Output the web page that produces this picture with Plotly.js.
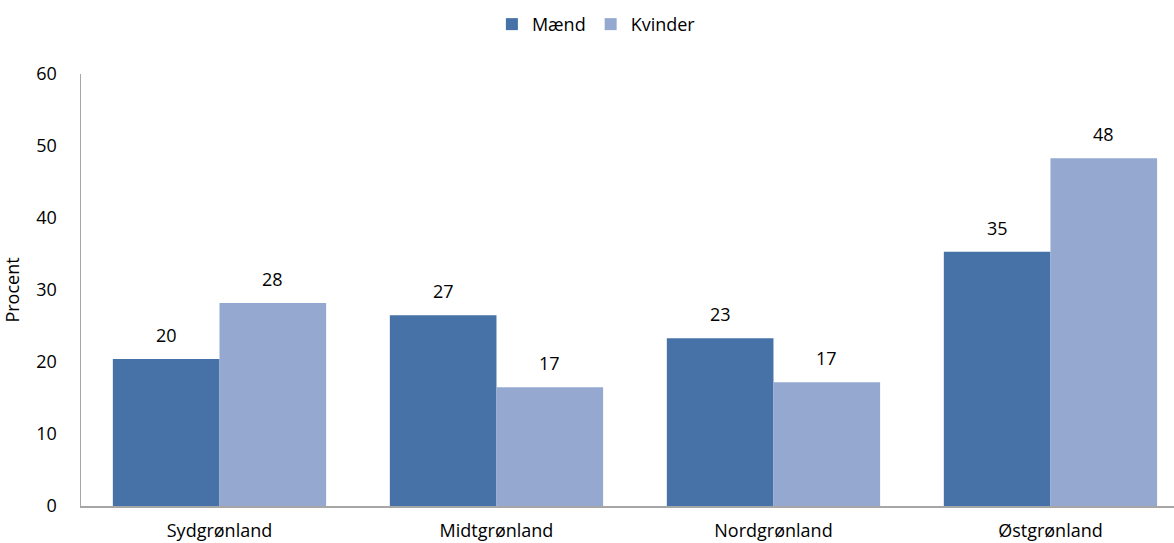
<!DOCTYPE html>
<html>
<head>
<meta charset="utf-8">
<script src="https://cdn.plot.ly/plotly-3.0.1.min.js"></script>
<style>
  html, body { margin: 0; padding: 0; background: #fff; }
  #chart { width: 1174px; height: 543px; }
</style>
</head>
<body>
<div id="chart"></div>
<script>
// Regions of Greenland
const regions = ['Sydgrønland', 'Midtgrønland', 'Nordgrønland', 'Østgrønland'];
// Share in percent by sex
const maend = [20.4, 26.5, 23.3, 35.3];
const kvinder = [28.2, 16.5, 17.2, 48.3];
const seriesNames = ['Mænd', 'Kvinder'];
const seriesColors = ['#4672a8', '#95a9d0'];
const yTicks = [0, 10, 20, 30, 40, 50, 60];

const FONT = '"Open Sans", "Noto Sans", sans-serif';
const BAR_GAP = 0.23;
const halfBar = (1 - BAR_GAP) / 4;

const series = [maend, kvinder];
const traces = series.map((vals, i) => ({
  type: 'bar',
  name: seriesNames[i],
  x: regions,
  y: vals,
  marker: { color: seriesColors[i], line: { width: 0 } },
  hoverinfo: 'skip'
}));

// Value labels above each bar, rounded to whole percent
const annotations = [];
series.forEach((vals, i) => {
  vals.forEach((v, j) => {
    annotations.push({
      x: j + (i === 0 ? -halfBar : halfBar),
      y: v,
      xref: 'x', yref: 'y',
      text: String(Math.round(v)),
      showarrow: false,
      yanchor: 'bottom',
      yshift: 10,
      font: { family: FONT, size: 18, color: '#000' }
    });
  });
});

const layout = {
  width: 1174,
  height: 543,
  paper_bgcolor: '#fff',
  plot_bgcolor: '#fff',
  margin: { l: 81, r: 0, t: 74, b: 37, pad: 0 },
  font: { family: FONT, size: 18, color: '#000' },
  barmode: 'group',
  bargap: BAR_GAP,
  bargroupgap: 0,
  showlegend: true,
  legend: {
    orientation: 'h',
    xref: 'container', yref: 'container',
    x: 0.508, xanchor: 'center',
    y: 0.955, yanchor: 'middle',
    font: { family: FONT, size: 18, color: '#000' },
    itemwidth: 30,
    tracegroupgap: 0
  },
  xaxis: {
    type: 'category',
    range: [-0.5, 3.446],
    showgrid: false,
    zeroline: false,
    showline: true,
    linecolor: '#a6a6a6',
    linewidth: 1.5,
    ticks: '',
    ticklabelstandoff: 8,
    tickfont: { family: FONT, size: 18, color: '#000' },
    fixedrange: true
  },
  yaxis: {
    range: [0, 60],
    tickvals: yTicks,
    ticktext: yTicks.map(String),
    showgrid: false,
    zeroline: false,
    showline: true,
    linecolor: '#a6a6a6',
    linewidth: 1.5,
    ticks: '',
    ticklabelstandoff: 19,
    tickfont: { family: FONT, size: 18, color: '#000' },
    title: { text: 'Procent', font: { family: FONT, size: 18, color: '#000' }, standoff: 14 },
    fixedrange: true
  },
  annotations: annotations
};

Plotly.newPlot('chart', traces, layout, { displayModeBar: false, staticPlot: true });
</script>
</body>
</html>
